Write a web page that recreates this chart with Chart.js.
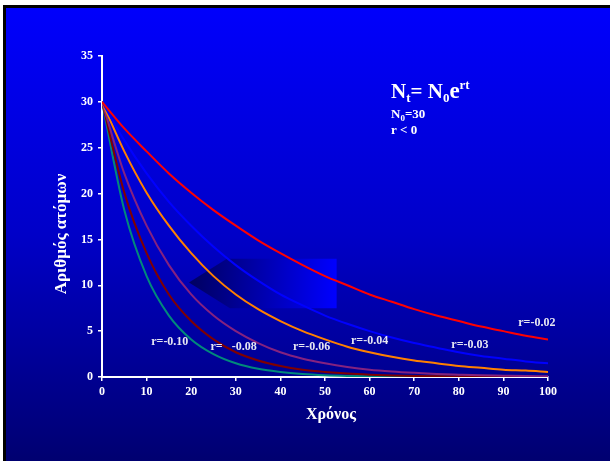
<!DOCTYPE html>
<html><head><meta charset="utf-8">
<script src="https://cdn.jsdelivr.net/npm/chart.js@4/dist/chart.umd.min.js"></script>
<style>
html,body{margin:0;padding:0;background:#fff;width:610px;height:461px;overflow:hidden;}
#frame{position:absolute;left:3px;top:5px;width:607px;height:456px;background:#000;}
#bg{position:absolute;left:6px;top:8px;width:604px;height:453px;background:linear-gradient(to bottom,rgb(0,0,252) 0%,rgb(0,0,200) 50%,rgb(0,0,112) 100%);}
#wrap{position:absolute;left:0;top:0;width:610px;height:461px;}
</style></head>
<body>
<div id="frame"></div><div id="bg"></div>
<div id="wrap"><canvas id="c" width="610" height="461"></canvas></div>
<script>
const times = [0,5,10,15,20,25,30,35,40,45,50,55,60,65,70,75,80,85,90,95,100];
const r002 = [30,27.1,24.6,22.2,20.1,18.2,16.5,14.9,13.5,12.2,11.0,10.0,9.0,8.2,7.4,6.7,6.1,5.5,5.0,4.5,4.1];
const r003 = [30,25.8,22.2,19.1,16.5,14.2,12.2,10.5,9.0,7.8,6.7,5.8,5.0,4.3,3.7,3.2,2.7,2.3,2.0,1.7,1.5];
const r004 = [30,24.6,20.1,16.5,13.5,11.0,9.0,7.4,6.1,5.0,4.1,3.3,2.7,2.2,1.8,1.5,1.2,1.0,0.8,0.7,0.55];
const r006 = [30,22.2,16.5,12.2,9.0,6.7,5.0,3.7,2.7,2.0,1.5,1.1,0.8,0.6,0.45,0.33,0.25,0.18,0.14,0.1,0.07];
const r008 = [30,20.1,13.5,9.0,6.1,4.1,2.7,1.8,1.2,0.8,0.55,0.37,0.25,0.17,0.11,0.07,0.05,0.03,0.02,0.02,0.01];
const r010 = [30,18.2,11.0,6.7,4.1,2.5,1.5,0.9,0.55,0.33,0.2,0.12,0.07,0.05,0.03,0.02,0.01,0.01,0,0,0];
const seriesNames = ['r=-0.02','r=-0.03','r=-0.04','r=-0.06','r=   -0.08','r=-0.10'];
const xTicks = [0,10,20,30,40,50,60,70,80,90,100];
const yTicks = [0,5,10,15,20,25,30,35];

const colors = ['#ff0000','#0000ff','#ff8000','#85227f','#800000','#008a7a'];
const seriesData = [r002,r003,r004,r006,r008,r010];
const labelPos = [[97.5,5.9],[82.5,3.5],[60,3.9],[47,3.25],[29.5,3.25],[15.2,3.8]];

const datasets = seriesData.map((arr,i)=>({
  label: seriesNames[i],
  data: arr.map((v,j)=>({x:times[j],y:v})),
  borderColor: colors[i],
  borderWidth: 2,
  pointRadius: 0,
  fill: false,
  cubicInterpolationMode: 'monotone'
}));

const serif = "'Liberation Serif','Times New Roman',serif";

const decor = {
  id:'decor',
  beforeDatasetsDraw(chart){
    const ctx = chart.ctx, xs = chart.scales.x, ys = chart.scales.y;
    const tip=[xs.getPixelForValue(19.5),ys.getPixelForValue(10.3)];
    const tl=[xs.getPixelForValue(28),ys.getPixelForValue(12.9)];
    const tr=[xs.getPixelForValue(52.6),ys.getPixelForValue(12.9)];
    const br=[xs.getPixelForValue(52.6),ys.getPixelForValue(7.5)];
    const bl=[xs.getPixelForValue(28.7),ys.getPixelForValue(7.5)];
    const g = ctx.createLinearGradient(tip[0],0,tr[0],0);
    g.addColorStop(0,'rgb(0,0,95)');
    g.addColorStop(1,'rgb(0,0,255)');
    ctx.save();
    ctx.beginPath();
    ctx.moveTo(tip[0],tip[1]);ctx.lineTo(tl[0],tl[1]);ctx.lineTo(tr[0],tr[1]);
    ctx.lineTo(br[0],br[1]);ctx.lineTo(bl[0],bl[1]);ctx.closePath();
    ctx.fillStyle=g;ctx.fill();
    ctx.restore();
  },
  afterDraw(chart){
    const ctx = chart.ctx, xs = chart.scales.x, ys = chart.scales.y;
    ctx.save();
    ctx.fillStyle='#ffffff';
    ctx.textAlign='center';ctx.textBaseline='middle';
    ctx.font = "bold 16px "+serif;
    ctx.fillText('Χρόνος',(xs.left+xs.right)/2 + 6, 415);
    ctx.save();
    ctx.font = "bold 17px "+serif;
    ctx.translate(62,234);ctx.rotate(-Math.PI/2);
    ctx.fillText('Αριθμός ατόμων',0,0);
    ctx.restore();
    ctx.font = "bold 12px "+serif;
    ctx.fillStyle='#e6e6f2';
    seriesNames.forEach((n,i)=>{
      ctx.fillText(n, xs.getPixelForValue(labelPos[i][0]), ys.getPixelForValue(labelPos[i][1]));
    });
    ctx.fillStyle='#ffffff';
    ctx.textAlign='left';ctx.textBaseline='alphabetic';
    let x=391, base=98;
    const big="bold 21px "+serif, sub="bold 13px "+serif;
    const put=(t,f,dy)=>{ctx.font=f;ctx.fillText(t,x,base+dy);x+=ctx.measureText(t).width;};
    put('N',big,0); put('t',sub,4); put('= ',big,0); put('N',big,0); put('0',sub,4);
    put('e',"bold 23px "+serif,0); put('rt',sub,-9);
    x=391; base=118;
    put('N',"bold 13px "+serif,0); put('0',"bold 9px "+serif,3); put('=30',"bold 13px "+serif,0);
    x=391; base=134;
    put('r < 0',"bold 13px "+serif,0);
    ctx.restore();
  }
};

new Chart(document.getElementById('c'),{
  type:'line',
  data:{datasets},
  options:{
    responsive:false,
    animation:false,
    layout:{padding:{top:56,right:62,left:0,bottom:0}},
    plugins:{legend:{display:false},tooltip:{enabled:false}},
    scales:{
      x:{type:'linear',min:0,max:100,
        afterFit(s){s.height=84;},
        afterBuildTicks(s){s.ticks=xTicks.map(v=>({value:v}));},
        grid:{drawOnChartArea:false,drawTicks:true,tickLength:4,color:'#ffffff',lineWidth:1.5},
        border:{display:true,color:'#ffffff',width:2},
        ticks:{color:'#ffffff',font:{family:serif,size:12,weight:'bold'},padding:4,maxRotation:0}
      },
      y:{type:'linear',min:0,max:35,
        afterFit(s){s.width=102;},
        afterBuildTicks(s){s.ticks=yTicks.map(v=>({value:v}));},
        grid:{drawOnChartArea:false,drawTicks:true,tickLength:4,color:'#ffffff',lineWidth:1.5},
        border:{display:true,color:'#ffffff',width:2},
        ticks:{color:'#ffffff',font:{family:serif,size:12,weight:'bold'},padding:5}
      }
    }
  },
  plugins:[decor]
});
</script>
</body></html>
